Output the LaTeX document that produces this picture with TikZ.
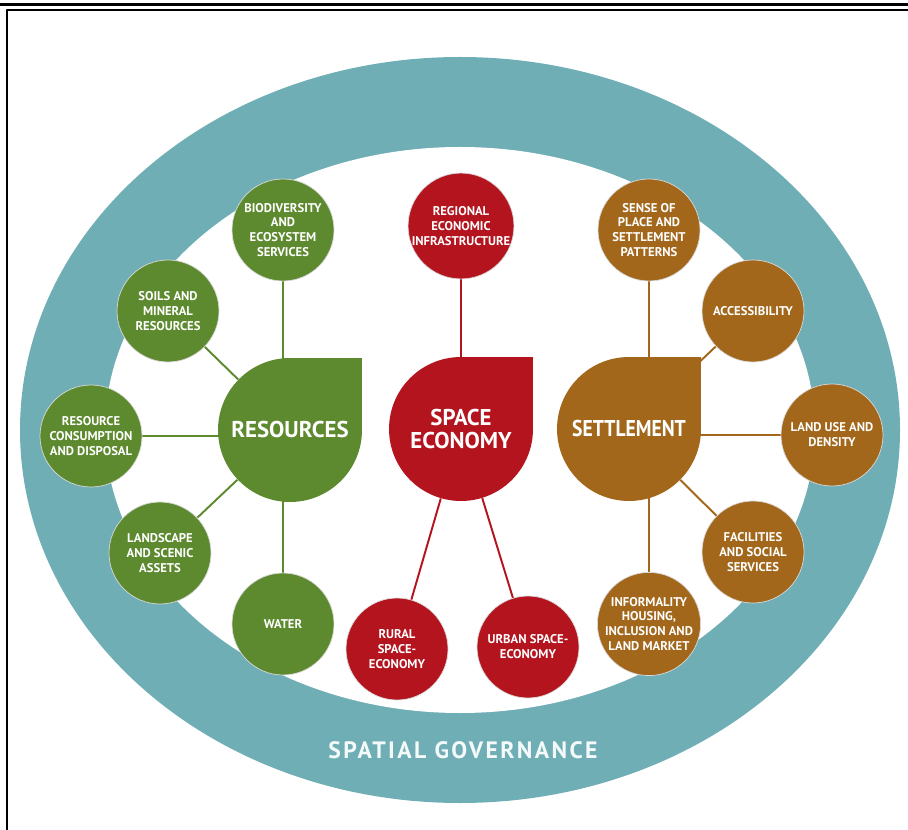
\documentclass[tikz,border=0pt]{standalone}
\usepackage{fontspec}
\setmainfont{PT Sans}
\usetikzlibrary{backgrounds}
\definecolor{resgreen}{HTML}{5D8A2F}
\definecolor{ecored}{HTML}{B3141E}
\definecolor{setbrown}{HTML}{A2671B}
\definecolor{govteal}{HTML}{70AEB5}
\begin{document}
\begin{tikzpicture}[x=0.02cm, y=0.02cm, line join=round, line cap=round,
	topic/.style={circle, inner sep=0pt, minimum size=2.04cm, text=white, align=center, draw=white!85!black, line width=0.4pt, font=\bfseries\fontsize{7.2}{8.5}\selectfont},
	theme/.style={circle, inner sep=0pt, minimum size=2.88cm, text=white, align=center, font=\bfseries\fontsize{13}{13.5}\selectfont},
	link/.style={line width=1.1pt}]
	\useasboundingbox (0,0) rectangle (908,-830);
	
	% frame
	\draw[line width=1.7pt] (0,-5)--(908,-5);
	\draw[line width=0.8pt] (7,-830)--(7,-10)--(908,-10);
	
	% three themes
	\node[theme, fill=resgreen] (res) at (290,-430) {RESOURCES};
	\node[theme, fill=ecored] (eco) at (461,-429) {SPACE\\ECONOMY};
	\node[theme, fill=setbrown] (set) at (629,-429) {\scalebox{0.86}[1]{SETTLEMENT}};
	
	% resources
	\node[topic, fill=resgreen] (bio) at (283,-230) {BIODIVERSITY\\AND\\ECOSYSTEM\\SERVICES};
	\node[topic, fill=resgreen] (soil) at (168,-311) {SOILS AND\\MINERAL\\RESOURCES};
	\node[topic, fill=resgreen] (cons) at (91,-436) {RESOURCE\\CONSUMPTION\\AND DISPOSAL};
	\node[topic, fill=resgreen] (scen) at (160,-553) {LANDSCAPE\\AND SCENIC\\ASSETS};
	\node[topic, fill=resgreen] (wat) at (283,-624) {WATER};
	
	% space economy
	\node[topic, fill=ecored] (reg) at (461,-226) {REGIONAL\\ECONOMIC\\INFRASTRUCTURE};
	\node[topic, fill=ecored] (rur) at (397,-649) {RURAL\\SPACE-\\ECONOMY};
	\node[topic, fill=ecored] (urb) at (528,-647) {URBAN SPACE-\\ECONOMY};
	
	% settlement
	\node[topic, fill=setbrown] (sense) at (649,-230) {SENSE OF\\PLACE AND\\SETTLEMENT\\PATTERNS};
	\node[topic, fill=setbrown] (acc) at (753,-311) {ACCESSIBILITY};
	\node[topic, fill=setbrown] (luse) at (832,-435) {LAND USE AND\\DENSITY};
	\node[topic, fill=setbrown] (fac) at (753,-552) {FACILITIES\\AND SOCIAL\\SERVICES};
	\node[topic, fill=setbrown] (infm) at (649,-624) {INFORMALITY\\HOUSING,\\INCLUSION AND\\LAND MARKET};
	
	\node[text=white!92!govteal, font=\bfseries\fontsize{13.5}{15}\selectfont\addfontfeatures{LetterSpace=10}] (gov) at (463,-750) {SPATIAL GOVERNANCE};
	
	\begin{pgfonlayer}{background}
		% spatial governance ring
		\fill[govteal] (460,-430) ellipse [x radius=440, y radius=373];
		\fill[white] (460,-430) ellipse [x radius=355, y radius=283];
		% links
		\draw[link, resgreen] (bio)--(bio |- res);
		\draw[link, resgreen] (wat)--(wat |- res);
		\draw[link, resgreen] (cons)--(cons -| res);
		\draw[link, resgreen] (soil)--(res);
		\draw[link, resgreen] (scen)--(res);
		\draw[link, ecored] (reg)--(eco);
		\draw[link, ecored] (rur)--(eco);
		\draw[link, ecored] (urb)--(eco);
		\draw[link, setbrown] (sense)--(sense |- set);
		\draw[link, setbrown] (infm)--(infm |- set);
		\draw[link, setbrown] (luse)--(luse -| set);
		\draw[link, setbrown] (acc)--(set);
		\draw[link, setbrown] (fac)--(set);
		% square corners of the themes
		\foreach \t/\c in {res/resgreen, eco/ecored, set/setbrown}
			\fill[\c] (\t.north) rectangle (\t.east);
	\end{pgfonlayer}
\end{tikzpicture}
\end{document}
